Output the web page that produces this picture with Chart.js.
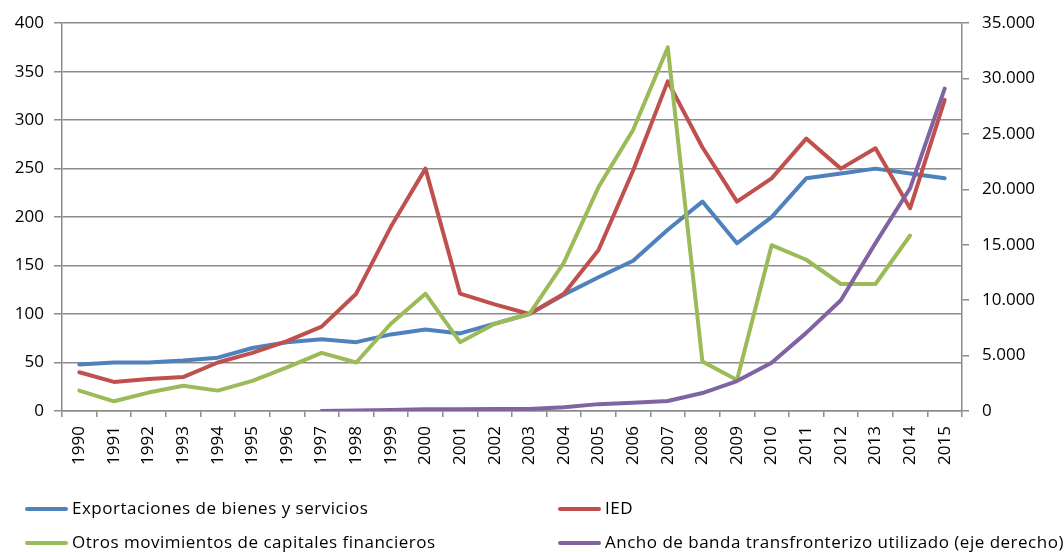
<!DOCTYPE html>
<html>
<head>
<meta charset="utf-8">
<script src="https://cdn.jsdelivr.net/npm/chart.js@4.4.1/dist/chart.umd.min.js"></script>
<style>
  html, body { margin: 0; padding: 0; background: #fff; }
  #wrap { position: relative; width: 1064px; height: 552px; }
  canvas { position: absolute; left: 0; top: 0; }
  .leg { position: absolute; font-family: "Open Sans", sans-serif; font-size: 17px; letter-spacing: 0.5px; color: #000; white-space: nowrap; line-height: 20px; }
  .leg i { position: absolute; top: 8px; height: 4px; width: 43px; border-radius: 2px; }
  .leg span { position: absolute; left: 47px; top: -1px; }
</style>
</head>
<body>
<div id="wrap">
  <canvas id="c" width="1064" height="552"></canvas>
</div>
<script>
const years = ['1990','1991','1992','1993','1994','1995','1996','1997','1998','1999','2000','2001','2002','2003','2004','2005','2006','2007','2008','2009','2010','2011','2012','2013','2014','2015'];
const exportaciones = [48,50,50,52,55,65,71,74,71,79,84,80,90,100,120,138,155,187,216,173,200,240,245,250,245,240];
const ied = [40,30,33,35,50,60,72,87,121,190,250,121,110,100,121,166,248,340,272,216,240,281,250,271,209,321];
const otros = [21,10,19,26,21,31,45,60,50,90,121,71,90,100,153,231,290,375,51,32,171,156,131,131,181,null];
const anchoBanda = [null,null,null,null,null,null,null,0,50,80,150,160,170,180,330,620,750,900,1620,2700,4350,7050,10000,15150,20100,29100];
const leftTicks = [0,50,100,150,200,250,300,350,400];
const rightTicks = [0,5000,10000,15000,20000,25000,30000,35000];

const seriesNames = ['Exportaciones de bienes y servicios','IED','Otros movimientos de capitales financieros','Ancho de banda transfronterizo utilizado (eje derecho)'];
const colors = ['#4F81BD','#C0504D','#9BBB59','#8064A2'];

const gridColor = '#8c8c8c';
const tickFont = { family: '"Open Sans", sans-serif', size: 17 };

function ds(label, data, color, axis, order) {
  return { label, data, borderColor: color, backgroundColor: color, borderWidth: 4, pointRadius: 0, pointHoverRadius: 0, tension: 0, yAxisID: axis, order, borderCapStyle: 'round', borderJoinStyle: 'round', spanGaps: false };
}

new Chart(document.getElementById('c'), {
  type: 'line',
  data: {
    labels: years,
    datasets: [
      ds(seriesNames[0], exportaciones, colors[0], 'y', 4),
      ds(seriesNames[1], ied, colors[1], 'y', 3),
      ds(seriesNames[2], otros, colors[2], 'y', 2),
      ds(seriesNames[3], anchoBanda, colors[3], 'y2', 1)
    ]
  },
  options: {
    responsive: false,
    animation: false,
    devicePixelRatio: 1,
    layout: { padding: { top: 23, left: 0, right: 0, bottom: 0 } },
    plugins: { legend: { display: false }, tooltip: { enabled: false } },
    scales: {
      x: {
        offset: true,
        grid: { display: true, drawOnChartArea: false, drawTicks: true, tickLength: 6, color: gridColor, lineWidth: 1.5, offset: true },
        border: { display: true, color: gridColor, width: 1.5 },
        ticks: { font: tickFont, color: '#000', maxRotation: 90, minRotation: 90, padding: 9, autoSkip: false },
        afterFit: s => { s.height = 141; }
      },
      y: {
        position: 'left',
        min: 0, max: 400,
        afterBuildTicks: s => { s.ticks = leftTicks.map(v => ({ value: v })); },
        grid: { color: gridColor, lineWidth: 1.5, drawTicks: true, tickLength: 8 },
        border: { display: true, color: gridColor, width: 1.5 },
        ticks: { font: tickFont, color: '#000', padding: 10 },
        afterFit: s => { s.width = 62; }
      },
      y2: {
        position: 'right',
        min: 0, max: 35000,
        afterBuildTicks: s => { s.ticks = rightTicks.map(v => ({ value: v })); },
        grid: { drawOnChartArea: false, color: gridColor, lineWidth: 1.5, drawTicks: true, tickLength: 7 },
        border: { display: true, color: gridColor, width: 1.5 },
        ticks: { font: tickFont, color: '#000', padding: 13, callback: v => v === 0 ? '0' : String(v).replace(/\B(?=(\d{3})+(?!\d))/g, '.') },
        afterFit: s => { s.width = 102; }
      }
    }
  }
});

// HTML legend (2 columns x 2 rows)
const legPos = [[25, 499], [558, 499], [25, 533], [558, 533]];
const wrap = document.getElementById('wrap');
seriesNames.forEach((name, i) => {
  const d = document.createElement('div');
  d.className = 'leg';
  d.style.left = legPos[i][0] + 'px';
  d.style.top = legPos[i][1] + 'px';
  d.innerHTML = '<i style="background:' + colors[i] + '"></i><span>' + name + '</span>';
  wrap.appendChild(d);
});
</script>
</body>
</html>
